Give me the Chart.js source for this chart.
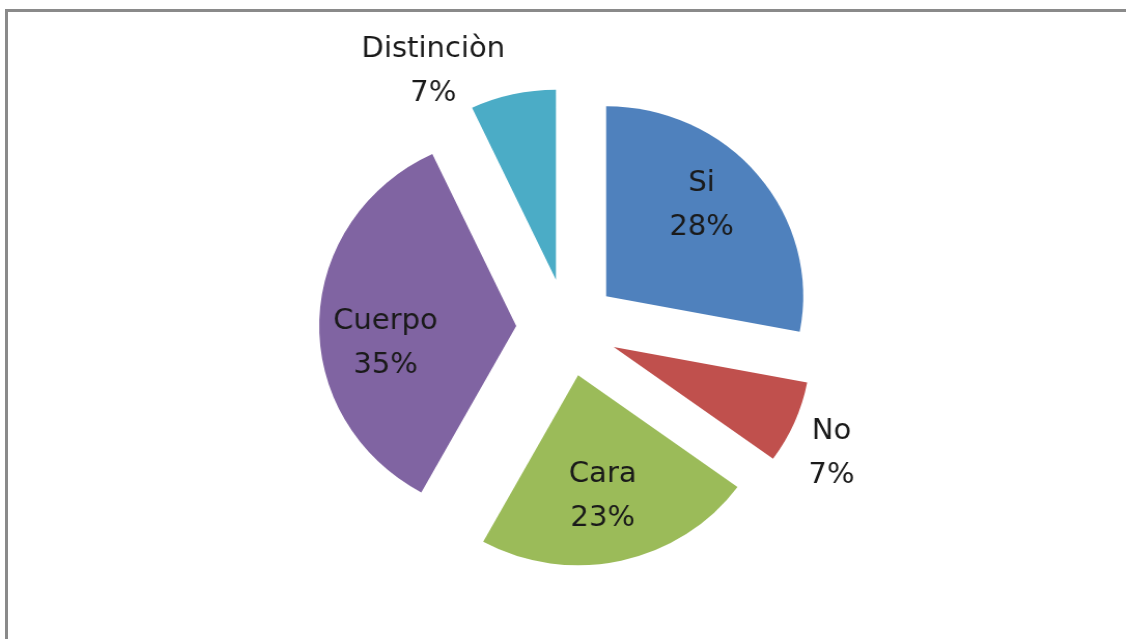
<!DOCTYPE html>
<html>
<head>
<meta charset="utf-8">
<script src="https://cdn.jsdelivr.net/npm/chart.js@4/dist/chart.umd.min.js"></script>
<style>
    html, body { margin: 0; padding: 0; background: #fff; }
    body { width: 1126px; height: 639px; position: relative; overflow: hidden; }
    #frame {
        position: absolute; left: 5px; top: 9px; width: 1130px; height: 640px;
        border-top: 3px solid #8a8a8a; border-left: 3px solid #8a8a8a;
    }
    /* the original picture is a touch wider than tall */
    #wrap {
        position: absolute; left: 0; top: 0; width: 1126px; height: 639px;
        transform: scaleX(1.037); transform-origin: 567px 0;
    }
</style>
</head>
<body>
<div id="frame"></div>
<div id="wrap"><canvas id="chart"></canvas></div>
<script>
    const categories = ['Si', 'No', 'Cara', 'Cuerpo', 'Distinciòn'];
    const percents   = [28, 7, 23, 35, 7];
    const colors     = ['#4F81BD', '#C0504D', '#9BBB59', '#8064A2', '#4BACC6'];

    // where each label sits: fraction of radius, angle nudge in degrees
    const labelSpots = [
        { k: 0.68, nudge: -5 },
        { k: 1.24, nudge: 3.5 },
        { k: 0.65, nudge: 1.5 },
        { k: 0.67, nudge: -10 },
        { k: 1.26, nudge: -17 },
    ];

    const EXPLODE = 49;
    const FONT = '28px "DejaVu Sans", sans-serif';

    const explodePlugin = {
        id: 'explode',
        beforeDatasetDraw(chart, args) {
            const ctx = chart.ctx;
            args.meta.data.forEach(arc => {
                const mid = (arc.startAngle + arc.endAngle) / 2;
                ctx.save();
                ctx.translate(Math.cos(mid) * EXPLODE, Math.sin(mid) * EXPLODE);
                arc.draw(ctx, chart.chartArea);
                ctx.restore();
            });
            return false;
        },
        afterDraw(chart) {
            const ctx = chart.ctx;
            const meta = chart.getDatasetMeta(0);
            ctx.save();
            ctx.font = FONT;
            ctx.fillStyle = '#1a1a1a';
            ctx.textAlign = 'center';
            ctx.textBaseline = 'middle';
            meta.data.forEach((arc, i) => {
                const mid = (arc.startAngle + arc.endAngle) / 2;
                const cx = arc.x + Math.cos(mid) * EXPLODE;
                const cy = arc.y + Math.sin(mid) * EXPLODE;
                const spot = labelSpots[i];
                const a = mid + spot.nudge * Math.PI / 180;
                const r = arc.outerRadius * spot.k;
                const x = cx + Math.cos(a) * r;
                const y = cy + Math.sin(a) * r;
                ctx.fillText(categories[i], x, y - 22);
                ctx.fillText(percents[i] + '%', x, y + 22);
            });
            ctx.restore();
        },
    };

    new Chart(document.getElementById('chart'), {
        type: 'pie',
        data: {
            labels: categories,
            datasets: [{
                data: percents,
                backgroundColor: colors,
                borderWidth: 0,
                radius: 190,
            }],
        },
        options: {
            responsive: true,
            maintainAspectRatio: false,
            animation: false,
            layout: { padding: { left: 8, right: 0, top: 16, bottom: 0 } },
            plugins: {
                legend: { display: false },
                tooltip: { enabled: false },
            },
        },
        plugins: [explodePlugin],
    });
</script>
</body>
</html>
